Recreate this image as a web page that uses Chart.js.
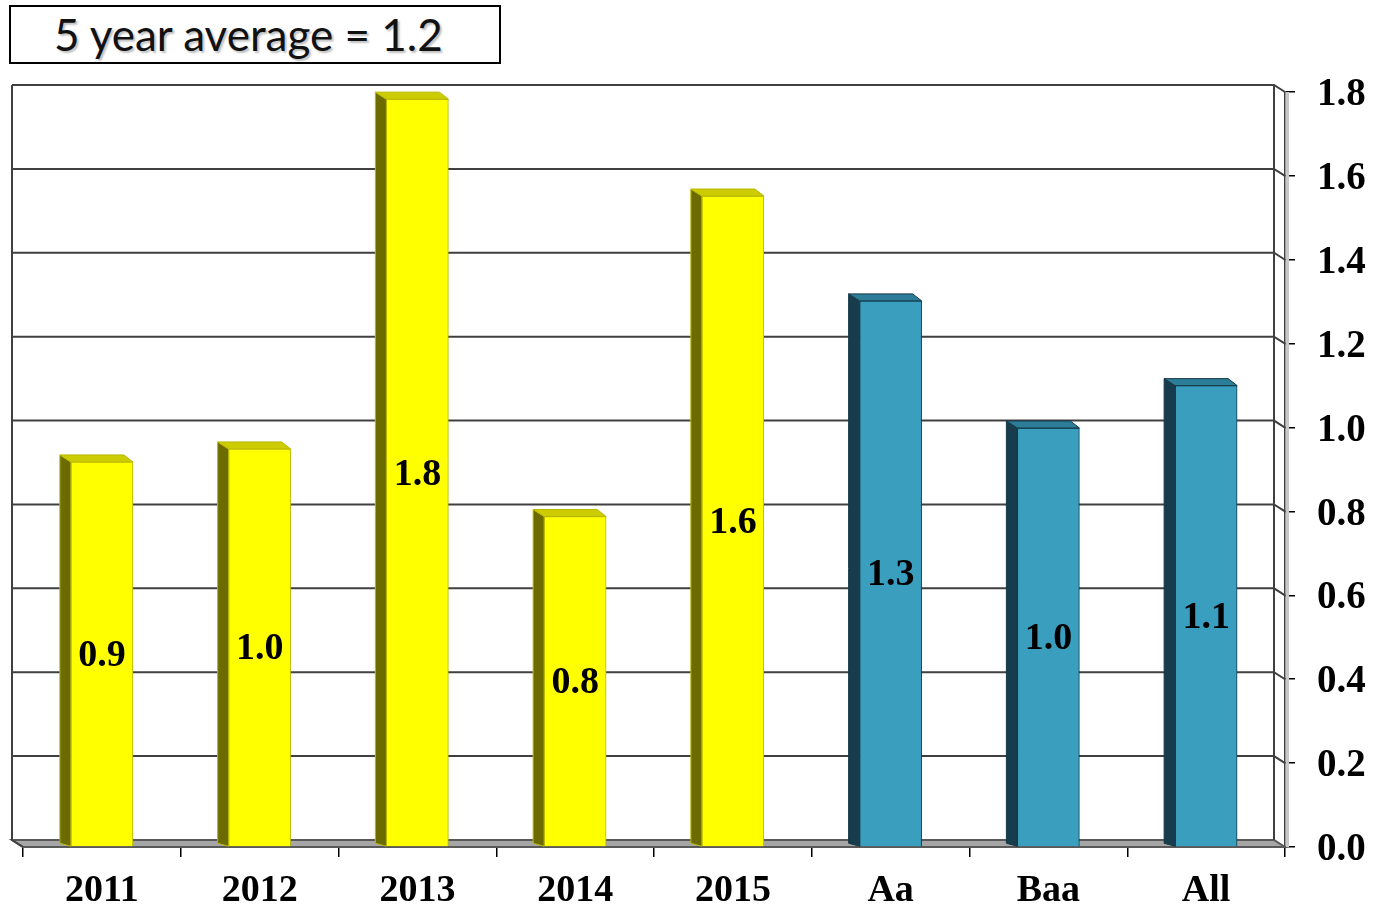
<!DOCTYPE html>
<html>
<head>
<meta charset="utf-8">
<script src="https://cdn.jsdelivr.net/npm/chart.js@4.4.1/dist/chart.umd.min.js"></script>
<style>
  html, body { margin: 0; padding: 0; background: #fff; }
  #wrap { position: relative; width: 1373px; height: 910px; }
  #chart { position: absolute; left: 0; top: 0; }
  #avg-box {
    position: absolute; left: 9px; top: 5px; height: 55px;
    border: 2px solid #000; background: #fff;
    font-family: Lato, "Open Sans", sans-serif; font-size: 44px; line-height: 55px;
    color: #111; text-shadow: 2px 2px 2px rgba(0,0,0,0.25);
    padding-left: 43px; box-sizing: content-box; width: 445px;
  }
</style>
</head>
<body>
<div id="wrap">
  <canvas id="chart" width="1373" height="910"></canvas>
  <div id="avg-box">5 year average = 1.2</div>
</div>
<script>
/* Bar chart with a fake 3D look: Chart.js draws the front faces,
   a small plugin adds back wall, floor, bar sides and tops. */

const categories = ["2011", "2012", "2013", "2014", "2015", "Aa", "Baa", "All"];
const values = [0.918, 0.949, 1.783, 0.788, 1.552, 1.302, 0.999, 1.10];
const valueLabels = ["0.9", "1.0", "1.8", "0.8", "1.6", "1.3", "1.0", "1.1"];
const groups = ["year", "year", "year", "year", "year", "rating", "rating", "rating"];
const yTicks = [0.0, 0.2, 0.4, 0.6, 0.8, 1.0, 1.2, 1.4, 1.6, 1.8];

const PALETTE = {
  year:   { front: "#ffff00", side: "#6b6b00", top: "#cccc00", line: "#b8b800" },
  rating: { front: "#3a9ebf", side: "#173d4d", top: "#2c7d98", line: "#163848" },
};
const DX = -11, DY = -7;
const SERIF = '"Liberation Serif", "Times New Roman", serif';

function poly(ctx, pts, fill, stroke, lw) {
  ctx.beginPath();
  ctx.moveTo(pts[0][0], pts[0][1]);
  for (const p of pts.slice(1)) ctx.lineTo(p[0], p[1]);
  ctx.closePath();
  if (fill) { ctx.fillStyle = fill; ctx.fill(); }
  if (stroke) { ctx.strokeStyle = stroke; ctx.lineWidth = lw || 1; ctx.stroke(); }
}

const box3d = {
  id: "box3d",
  beforeDatasetsDraw(chart) {
    const { ctx, chartArea: a, scales: { y } } = chart;
    const L = a.left + DX, R = a.right + DX;
    const y0 = y.getPixelForValue(0);
    ctx.save();
    // floor slab
    poly(ctx, [[L, y0 + DY], [R, y0 + DY], [a.right, y0], [a.left, y0]], "#a6a6a6", "#595959", 2);
    // right wall band
    ctx.fillStyle = "#c8c8c8";
    ctx.fillRect(a.right + 1, a.top, 3, y0 - a.top);
    // back wall gridlines
    ctx.strokeStyle = "#404040";
    ctx.lineWidth = 2;
    for (const v of yTicks) {
      if (v === 0) continue;
      const yy = y.getPixelForValue(v);
      ctx.beginPath();
      ctx.moveTo(L, yy + DY);
      ctx.lineTo(R, yy + DY);
      ctx.lineTo(a.right, yy);
      ctx.stroke();
    }
    // wall edges
    ctx.beginPath();
    ctx.moveTo(L, a.top + DY);
    ctx.lineTo(L, y0 + DY);
    ctx.lineTo(a.left, y0);
    ctx.moveTo(R, a.top + DY);
    ctx.lineTo(R, y0 + DY);
    ctx.stroke();
    ctx.restore();
  },
  afterDatasetsDraw(chart) {
    const { ctx } = chart;
    const meta = chart.getDatasetMeta(0);
    ctx.save();
    meta.data.forEach((bar, i) => {
      const c = PALETTE[groups[i]];
      const l = bar.x - bar.width / 2, r = bar.x + bar.width / 2;
      const t = bar.y, b = bar.base;
      poly(ctx, [[l + DX, t + DY], [l, t], [l, b], [l + DX, b + DY + 4]], c.side, c.line, 1);
      poly(ctx, [[l + DX, t + DY], [r + DX + 2, t + DY], [r, t], [l, t]], c.top, c.line, 1);
      ctx.fillStyle = "#000";
      ctx.font = "bold 38px " + SERIF;
      ctx.textAlign = "center";
      ctx.textBaseline = "middle";
      ctx.fillText(valueLabels[i], bar.x, (t + b) / 2 + 2);
    });
    ctx.restore();
  },
};

new Chart(document.getElementById("chart"), {
  type: "bar",
  data: {
    labels: categories,
    datasets: [{
      data: values,
      backgroundColor: groups.map(g => PALETTE[g].front),
      borderColor: groups.map(g => PALETTE[g].line),
      borderWidth: 1,
      barThickness: 62,
    }],
  },
  options: {
    responsive: false,
    animation: false,
    events: [],
    layout: { padding: { left: 23, top: 92, right: 0, bottom: 0 } },
    plugins: { legend: { display: false }, tooltip: { enabled: false } },
    scales: {
      x: {
        afterFit: s => { s.height = 63; },
        border: { display: false },
        grid: { offset: true, drawOnChartArea: false, tickLength: 10, color: "#000", lineWidth: 1.5 },
        ticks: { color: "#000", padding: 11, font: { family: SERIF, size: 38, weight: "bold" } },
      },
      y: {
        position: "right",
        min: 0, max: 1.8,
        afterFit: s => { s.width = 88; },
        afterBuildTicks: s => { s.ticks = yTicks.map(v => ({ value: v })); },
        border: { display: true, color: "#404040", width: 1.5 },
        grid: { drawOnChartArea: false, tickLength: 10, color: "#000", lineWidth: 1.5 },
        ticks: {
          color: "#000", padding: 22, labelOffset: 3,
          font: { family: SERIF, size: 39, weight: "bold" },
          callback: v => Number(v).toFixed(1),
        },
      },
    },
  },
  plugins: [box3d],
});
</script>
</body>
</html>
